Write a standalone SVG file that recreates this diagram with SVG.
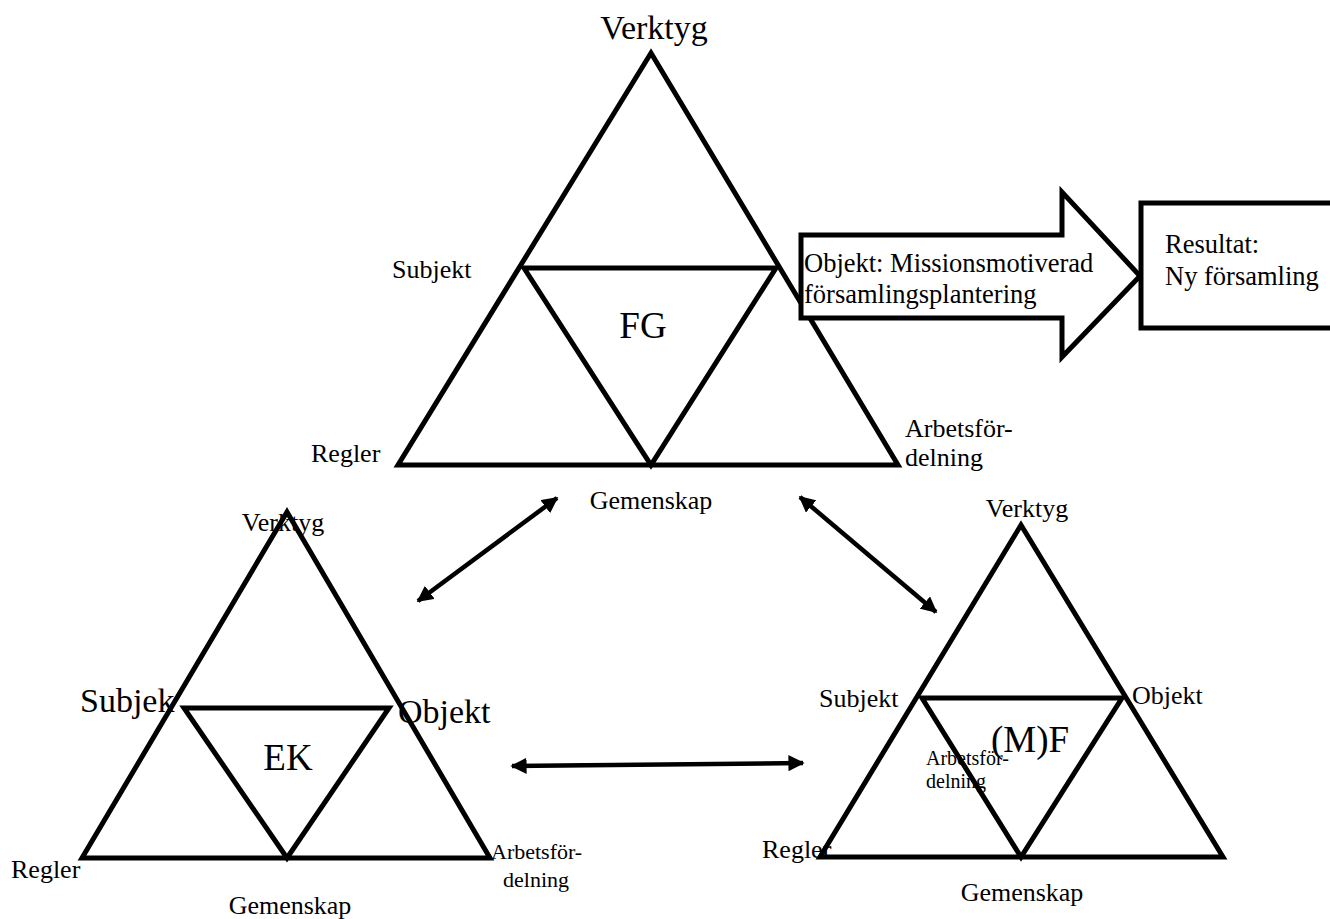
<svg xmlns="http://www.w3.org/2000/svg" width="1330" height="919" viewBox="0 0 1330 919">
<style>
.sh{fill:none;stroke:#000;stroke-width:5;stroke-linejoin:miter}
.bf{fill:#fff;stroke:#000;stroke-width:5}
text{font-family:"Liberation Serif","Times New Roman",serif;fill:#000}
.s26{font-size:26px}
.s27{font-size:26.5px}
.s34{font-size:34px}
.s37{font-size:37px}
.s22{font-size:22px}
.s20{font-size:20px}
.ln{stroke:#000;stroke-width:4.5;fill:none;marker-start:url(#ah);marker-end:url(#ah)}
</style>
<defs>
<marker id="ah" viewBox="0 0 10 10" refX="9" refY="5" markerWidth="3.6" markerHeight="3.6" orient="auto-start-reverse" markerUnits="strokeWidth">
<path d="M0,0 L10,5 L0,10 z" fill="#000"/>
</marker>
</defs>
<rect width="1330" height="919" fill="#fff"/>

<g id="node-fg">
<polygon class="sh" points="651,53 898,465 398,465"/>
<polygon class="sh" points="524,268 776,268 651,465"/>
<text class="s34" x="654" y="39" text-anchor="middle">Verktyg</text>
<text class="s26" x="392" y="278">Subjekt</text>
<text class="s26" x="311" y="462">Regler</text>
<text class="s26" x="905" y="437">Arbetsför-</text>
<text class="s26" x="905" y="466">delning</text>
<text class="s26" x="651" y="509" text-anchor="middle">Gemenskap</text>
<text class="s37" x="643" y="338" text-anchor="middle">FG</text>
</g>

<g id="node-objekt">
<polygon class="bf" points="801,235 1062,235 1062,192 1140,276 1062,357 1062,318 801,318"/>
<text class="s27" x="804" y="272">Objekt: Missionsmotiverad</text>
<text class="s27" x="804" y="303">församlingsplantering</text>
</g>

<g id="node-resultat">
<rect class="bf" x="1141" y="203" width="200" height="125"/>
<text class="s27" x="1165" y="253">Resultat:</text>
<text class="s27" x="1165" y="285">Ny församling</text>
</g>

<g id="node-ek">
<polygon class="sh" points="287,512 490,858 82,858"/>
<polygon class="sh" points="184,708 389,708 287,858"/>
<text class="s26" x="283" y="531" text-anchor="middle">Verktyg</text>
<text class="s34" x="80" y="712">Subjek</text>
<text class="s34" x="398" y="723">Objekt</text>
<text class="s37" x="288" y="770" text-anchor="middle">EK</text>
<text class="s26" x="11" y="878">Regler</text>
<text class="s22" x="491" y="859">Arbetsför-</text>
<text class="s22" x="503" y="887">delning</text>
<text class="s26" x="290" y="914" text-anchor="middle">Gemenskap</text>
</g>

<g id="node-mf">
<polygon class="sh" points="1021,525 1223,857 820,857"/>
<polygon class="sh" points="922,698 1122,698 1021,857"/>
<text class="s26" x="1027" y="517" text-anchor="middle">Verktyg</text>
<text class="s26" x="819" y="707">Subjekt</text>
<text class="s26" x="1132" y="704">Objekt</text>
<text class="s37" x="991" y="752">(M)F</text>
<text class="s20" x="926" y="765">Arbetsför-</text>
<text class="s20" x="926" y="788">delning</text>
<text class="s26" x="762" y="858">Regler</text>
<text class="s26" x="1022" y="901" text-anchor="middle">Gemenskap</text>
</g>

<g id="connectors">
<line class="ln" x1="418" y1="601" x2="557" y2="498"/>
<line class="ln" x1="800" y1="497" x2="936" y2="612"/>
<line class="ln" x1="512" y1="766" x2="803" y2="763"/>
</g>
</svg>
